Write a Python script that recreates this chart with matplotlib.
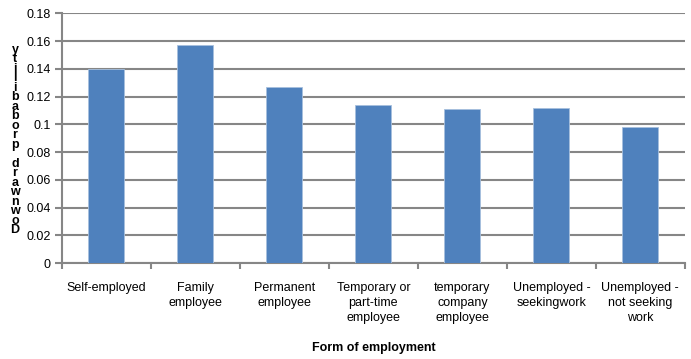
import matplotlib.pyplot as plt
import numpy as np

plt.rcParams['font.family'] = ['Liberation Sans', 'DejaVu Sans']

categories = ["Self-employed", "Family\nemployee", "Permanent\nemployee",
              "Temporary or\npart-time\nemployee", "temporary\ncompany\nemployee",
              "Unemployed -\nseekingwork", "Unemployed -\nnot seeking\nwork"]
values = [0.1398, 0.1569, 0.1268, 0.1140, 0.1111, 0.1118, 0.0978]
yticks = [0, 0.02, 0.04, 0.06, 0.08, 0.1, 0.12, 0.14, 0.16, 0.18]
ylabels = ["0", "0.02", "0.04", "0.06", "0.08", "0.1", "0.12", "0.14", "0.16", "0.18"]
ylabel_text = "Downward probability"

grey = "#868686"

fig = plt.figure(figsize=(6.91, 3.59), dpi=100)
ax = fig.add_axes([0.0897, 0.2674, 0.9013, 0.6956])

x = np.arange(len(categories))
ax.bar(x, values, width=0.405, color="#4F81BD", edgecolor="#A7C0DE", linewidth=0.6, zorder=3)

ax.set_xlim(-0.5, len(categories) - 0.5)
ax.set_ylim(0, 0.18)
ax.set_yticks(yticks)
ax.set_yticklabels(ylabels, fontsize=9, color="#000000")
ax.yaxis.grid(True, color=grey, linewidth=1.5, zorder=0)
ax.set_axisbelow(True)

ax.set_xticks(x)
ax.set_xticklabels(categories, fontsize=9, linespacing=1.3, va="top")
ax.set_xticks(np.arange(len(categories) + 1) - 0.5, minor=True)
ax.tick_params(axis="x", which="major", length=0, pad=14)
ax.tick_params(axis="x", which="minor", length=4, color=grey, width=1.5)
ax.tick_params(axis="y", length=5, color=grey, width=1.5, pad=3)

for s in ["top", "right"]:
    ax.spines[s].set_visible(False)
for s in ["left", "bottom"]:
    ax.spines[s].set_color(grey)
    ax.spines[s].set_linewidth(1.5)

ax.set_xlabel("Form of employment", fontsize=9, fontweight="bold", labelpad=13)

# stacked y label as in the original
stacked = "\n".join(reversed(ylabel_text))
fig.text(15 / 691, 1 - 140 / 359, stacked, fontsize=9, fontweight="bold",
         ha="center", va="center", linespacing=0.72)

plt.savefig("out.png", dpi=100)
